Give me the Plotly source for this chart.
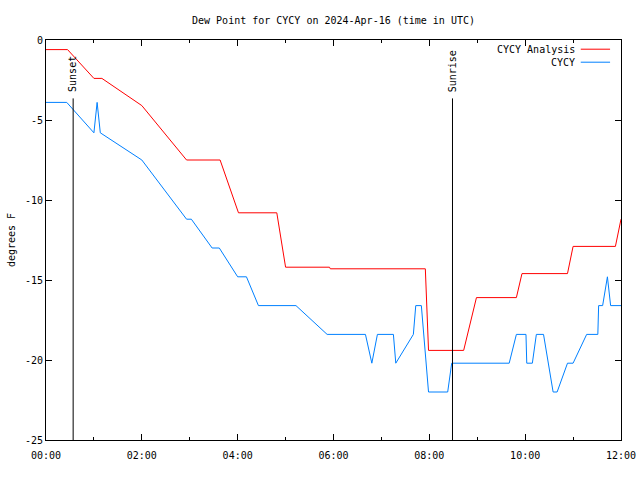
import plotly.graph_objects as go

DAY = "2024-04-16 "

analysis_times = ["00:00", "00:27", "01:00", "01:10", "02:00", "02:56", "03:38", "04:01",
                  "04:49", "05:00", "05:55", "05:56", "07:55", "07:59", "08:43", "08:59",
                  "09:49", "09:56", "10:53", "11:00", "11:53", "12:00"]
analysis_vals = [-0.6, -0.6, -2.4, -2.4, -4.1, -7.5, -7.5, -10.8,
                 -10.8, -14.2, -14.2, -14.3, -14.3, -19.4, -19.4, -16.1,
                 -16.1, -14.6, -14.6, -12.9, -12.9, -11.2]

obs_times = ["00:00", "00:26", "01:00", "01:04", "01:08", "02:00", "02:56", "03:02",
             "03:28", "03:37", "04:00", "04:11", "04:26", "05:13", "05:52", "06:40",
             "06:48", "06:55", "07:15", "07:18", "07:40", "07:43", "07:50", "07:59",
             "08:23", "08:28", "09:40", "09:49", "10:01", "10:02", "10:09", "10:14",
             "10:23", "10:35", "10:40", "10:53", "11:00", "11:17", "11:31", "11:32",
             "11:37", "11:43", "11:47", "12:00"]
obs_vals = [-3.9, -3.9, -5.8, -3.9, -5.8, -7.5, -11.2, -11.2,
            -13.0, -13.0, -14.8, -14.8, -16.6, -16.6, -18.4, -18.4,
            -20.2, -18.4, -18.4, -20.2, -18.4, -16.6, -16.6, -22.0,
            -22.0, -20.2, -20.2, -18.4, -18.4, -20.2, -20.2, -18.4,
            -18.4, -22.0, -22.0, -20.2, -20.2, -18.4, -18.4, -16.6,
            -16.6, -14.8, -16.6, -16.6]

series_names = ["CYCY Analysis", "CYCY"]
series_colors = ["#ff0000", "#0080ff"]

events = ["Sunset", "Sunrise"]
event_times = ["00:34", "08:29"]

x_ticks = ["00:00", "02:00", "04:00", "06:00", "08:00", "10:00", "12:00"]
y_ticks = [0, -5, -10, -15, -20, -25]

FONT = "DejaVu Sans Mono"
W, H = 640, 480

fig = go.Figure()
fig.add_trace(go.Scatter(x=[DAY + t for t in analysis_times], y=analysis_vals, mode="lines",
                         name=series_names[0], line=dict(color=series_colors[0], width=1)))
fig.add_trace(go.Scatter(x=[DAY + t for t in obs_times], y=obs_vals, mode="lines",
                         name=series_names[1], line=dict(color=series_colors[1], width=1)))

for name, t in zip(events, event_times):
    fig.add_shape(type="line", x0=DAY + t, x1=DAY + t, y0=-3.65, y1=-25,
                  xref="x", yref="y", line=dict(color="black", width=1))
    fig.add_annotation(x=DAY + t, y=-3.3, xref="x", yref="y", text=name, textangle=-90,
                       showarrow=False, xanchor="center", yanchor="bottom",
                       font=dict(family=FONT, size=10, color="black"), borderpad=0)

# custom legend (text right, sample on right) like gnuplot
for i, (name, col) in enumerate(zip(series_names, series_colors)):
    yp = 0.977 - i * 0.0325
    fig.add_annotation(x=0.921, y=yp, xref="paper", yref="paper", text=name,
                       showarrow=False, xanchor="right", yanchor="middle",
                       font=dict(family=FONT, size=10, color="black"), borderpad=0)
    fig.add_shape(type="line", x0=0.930, x1=0.981, y0=yp, y1=yp, xref="paper", yref="paper",
                  line=dict(color=col, width=1))

fig.update_layout(
    width=W, height=H,
    margin=dict(l=46, r=19, t=40, b=40),
    paper_bgcolor="white", plot_bgcolor="white",
    showlegend=False,
    font=dict(family=FONT, size=10, color="black"),
    title=dict(text="Dew Point for CYCY on 2024-Apr-16 (time in UTC)", x=0.5, xref="paper",
               xanchor="center", y=1 - 20 / H, yanchor="middle",
               font=dict(family=FONT, size=10, color="black")),
)
fig.update_xaxes(
    type="date", range=[DAY + "00:00", DAY + "12:00"],
    tickvals=[DAY + t for t in x_ticks], ticktext=x_ticks,
    ticks="inside", ticklen=6, tickcolor="black", tickwidth=1,
    minor=dict(dtick=3600000, ticks="inside", ticklen=3, tickcolor="black", tickwidth=1),
    showline=True, linecolor="black", linewidth=1, mirror="ticks",
    showgrid=False, zeroline=False, ticklabelstandoff=6, automargin=False,
    ticklabeloverflow="allow",
)
fig.update_yaxes(
    range=[-25, 0], tickvals=y_ticks, ticktext=[str(v) for v in y_ticks],
    ticks="inside", ticklen=6, tickcolor="black", tickwidth=1,
    showline=True, linecolor="black", linewidth=1, mirror="ticks",
    showgrid=False, zeroline=False, automargin=False,
    title=dict(text="degrees F", font=dict(family=FONT, size=10), standoff=7),
)

fig.write_html(
    "out.html",
    config={"displayModeBar": False},
    post_script="document.body.style.margin='0';"
                "document.documentElement.style.overflow='hidden';"
                "document.body.style.overflow='hidden';",
)
